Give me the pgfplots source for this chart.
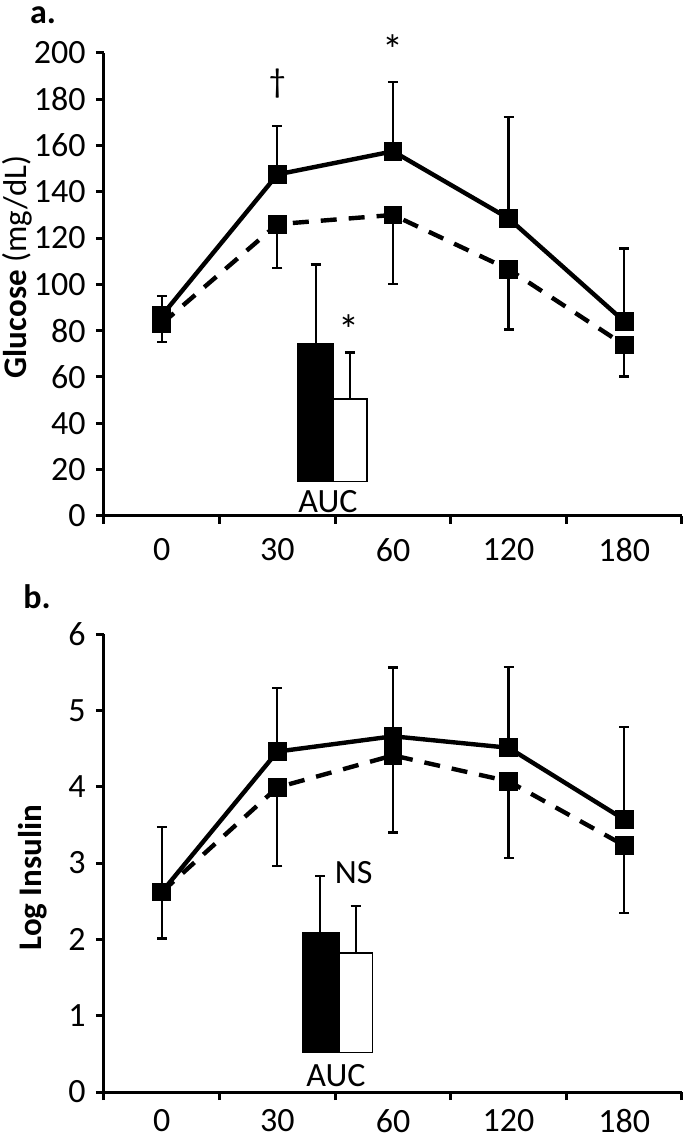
\documentclass[border=0pt]{standalone}
\usepackage{fontspec}
\setmainfont{Carlito}
\usepackage{pgfplots}
\pgfplotsset{compat=1.18}
\newcommand\tl{\fontsize{17}{20}\selectfont}
\newcommand\lb{\fontsize{16.5}{19}\selectfont}
\newcommand\st{\fontsize{21}{24}\selectfont}
\pgfplotsset{
  common/.style={
    scale only axis, width=289pt,
    xmin=-0.5, xmax=4.5,
    axis x line*=bottom, axis y line*=left,
    axis line style={line width=1.5pt},
    tick align=outside, major tick length=4pt,
    every tick/.style={line width=1.5pt, black},
    xtick={-0.5,0.5,1.5,2.5,3.5,4.5}, xticklabels={},
    extra x ticks={0,1,2,3,4},
    extra x tick labels={0,30,60,120,180},
    extra x tick style={major tick length=0pt},
    ticklabel style={font=\tl, inner sep=1pt},
    xticklabel style={yshift=-10pt},
    yticklabel style={xshift=-4pt},
    /pgf/number format/assume math mode=true,
    clip=false,
    label style={font=\lb},
    solidline/.style={black, line width=2.2pt, mark=square*, mark size=3.6pt,
      mark options={solid},
      error bars/.cd, y dir=plus, y explicit,
      error bar style={line width=1.1pt, solid},
      error mark options={rotate=90, mark size=2.5pt, line width=1.1pt, solid}},
    dashline/.style={black, line width=2.2pt, dash pattern=on 8pt off 6pt, mark=square*, mark size=3.6pt,
      mark options={solid},
      error bars/.cd, y dir=minus, y explicit,
      error bar style={line width=1.1pt, solid},
      error mark options={rotate=90, mark size=2.5pt, line width=1.1pt, solid}},
    auccerr/.style={draw=none, mark=none,
      error bars/.cd, y dir=plus, y explicit,
      error bar style={line width=1.1pt, draw=black},
      error mark options={rotate=90, mark size=2.5pt, line width=1.1pt, draw=black}},
  }
}
\begin{document}
\begin{tikzpicture}
\path[use as bounding box] (-52pt,-313.65pt) rectangle (293pt,257.85pt);
% Panel a
\begin{axis}[common, height=231.35pt,
  ymin=0, ymax=200, ytick={0,20,...,200},
  ylabel={\textbf{Glucose} (mg/dL)},
  every axis y label/.style={at={(axis description cs:-0.1505,0.5375)}, rotate=90, anchor=center, font=\lb},
]
\addplot[black, fill=black, line width=0.8pt] coordinates {(1.178,14.7) (1.481,14.7) (1.481,74.5) (1.178,74.5)} -- cycle;
\addplot[black, fill=white, line width=0.8pt] coordinates {(1.481,14.7) (1.775,14.7) (1.775,50.4) (1.481,50.4)} -- cycle;
\addplot[auccerr] coordinates {(1.331,74.5) +- (0,34.1)};
\addplot[auccerr] coordinates {(1.628,50.4) +- (0,20.1)};
\addplot[dashline] coordinates {
 (0,83) +- (0,8)
 (1,126) +- (0,19)
 (2,130) +- (0,30)
 (3,106.5) +- (0,26)
 (4,73.8) +- (0,13.6)};
\addplot[solidline] coordinates {
 (0,86.5) +- (0,8.5)
 (1,147.5) +- (0,20.8)
 (2,157.5) +- (0,30)
 (3,128.5) +- (0,44)
 (4,84) +- (0,31.5)};
\node[font=\tl] at (axis cs:1,187) {†};
\node[font=\st] at (axis cs:2,201.5) {*};
\node[font=\st] at (axis cs:1.615,80.5) {*};
\node[font=\tl] at (axis cs:1.438,5.9) {AUC};
\end{axis}
% Panel b
\begin{axis}[common, height=229pt, at={(0pt,-288.15pt)}, anchor=south west,
  xticklabel style={yshift=1.5pt, inner sep=0pt},
  ymin=0, ymax=6, ytick={0,1,...,6},
  ylabel={\textbf{Log Insulin}},
  every axis y label/.style={at={(axis description cs:-0.123,0.468)}, rotate=90, anchor=center, font=\lb},
]
\addplot[black, fill=black, line width=0.8pt] coordinates {(1.224,0.52) (1.533,0.52) (1.533,2.09) (1.224,2.09)} -- cycle;
\addplot[black, fill=white, line width=0.8pt] coordinates {(1.533,0.52) (1.824,0.52) (1.824,1.82) (1.533,1.82)} -- cycle;
\addplot[auccerr] coordinates {(1.369,2.09) +- (0,0.74)};
\addplot[auccerr] coordinates {(1.677,1.82) +- (0,0.62)};
\addplot[dashline] coordinates {
 (0,2.62) +- (0,0.61)
 (1,3.99) +- (0,1.03)
 (2,4.41) +- (0,1.01)
 (3,4.07) +- (0,1.0)
 (4,3.23) +- (0,0.88)};
\addplot[solidline] coordinates {
 (0,2.62) +- (0,0.85)
 (1,4.46) +- (0,0.83)
 (2,4.66) +- (0,0.9)
 (3,4.51) +- (0,1.06)
 (4,3.57) +- (0,1.21)};
\node[font=\tl] at (axis cs:1.66,2.87) {NS};
\node[font=\tl] at (axis cs:1.507,0.21) {AUC};
\end{axis}
\node[font=\bfseries\fontsize{17}{20}\selectfont] at (-30.5pt,250.35pt) {a.};
\node[font=\bfseries\fontsize{17}{20}\selectfont] at (-33.5pt,-40.65pt) {b.};
\end{tikzpicture}
\end{document}
